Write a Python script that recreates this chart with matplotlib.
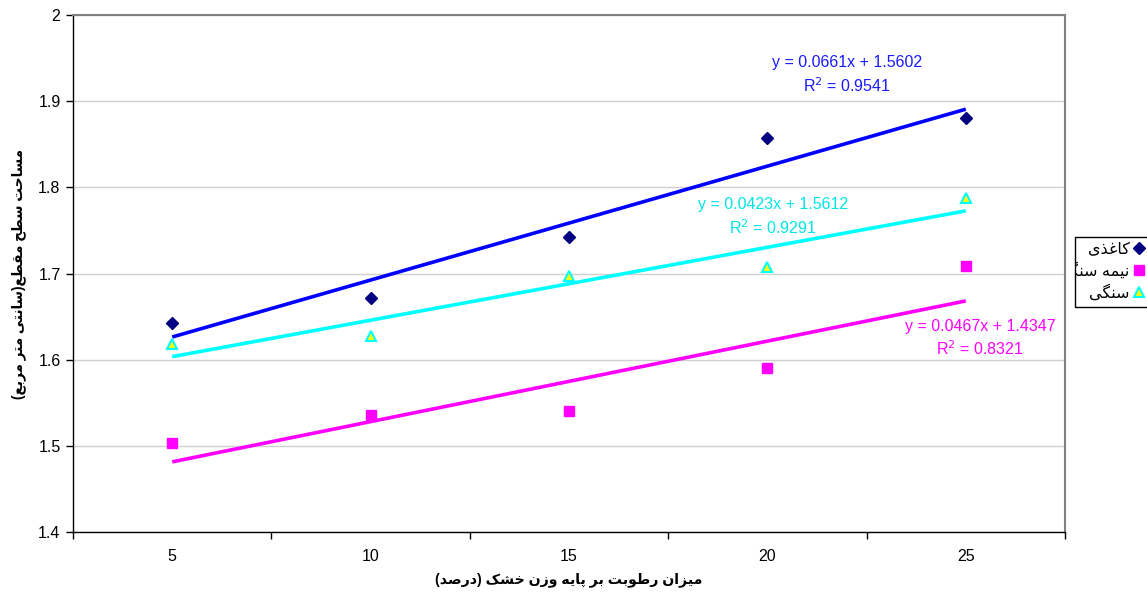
import numpy as np
import matplotlib
matplotlib.use("Agg")
import matplotlib.pyplot as plt
from matplotlib.transforms import Bbox, TransformedBbox
from matplotlib.patches import Rectangle

# data
moisture = [5, 10, 15, 20, 25]
kaghazi = [1.642, 1.672, 1.742, 1.857, 1.880]
nime_sangi = [1.503, 1.536, 1.540, 1.590, 1.709]
sangi = [1.618, 1.627, 1.697, 1.707, 1.788]

# excel trendlines (x = point index 1..5): slope, intercept, R2
trend_kaghazi = (0.0661, 1.5602, 0.9541)
trend_nime = (0.0467, 1.4347, 0.8321)
trend_sangi = (0.0423, 1.5612, 0.9291)

y_ticks = [1.4, 1.5, 1.6, 1.7, 1.8, 1.9, 2.0]

labels_fa = ["کاغذی", "نیمه سنگی", "سنگی"]
xlabel_fa = "میزان رطوبت بر پایه وزن خشک (درصد)"
ylabel_fa = "مساحت سطح مقطع(سانتی متر مربع)"

# simple arabic/persian shaping (matplotlib has no bidi / joining)
FORMS = {
    "ا": (0xFE8D, 0xFE8E, None, None),
    "ب": (0xFE8F, 0xFE90, 0xFE91, 0xFE92),
    "ت": (0xFE95, 0xFE96, 0xFE97, 0xFE98),
    "ح": (0xFEA1, 0xFEA2, 0xFEA3, 0xFEA4),
    "خ": (0xFEA5, 0xFEA6, 0xFEA7, 0xFEA8),
    "د": (0xFEA9, 0xFEAA, None, None),
    "ذ": (0xFEAB, 0xFEAC, None, None),
    "ر": (0xFEAD, 0xFEAE, None, None),
    "ز": (0xFEAF, 0xFEB0, None, None),
    "س": (0xFEB1, 0xFEB2, 0xFEB3, 0xFEB4),
    "ش": (0xFEB5, 0xFEB6, 0xFEB7, 0xFEB8),
    "ص": (0xFEB9, 0xFEBA, 0xFEBB, 0xFEBC),
    "ط": (0xFEC1, 0xFEC2, 0xFEC3, 0xFEC4),
    "ع": (0xFEC9, 0xFECA, 0xFECB, 0xFECC),
    "غ": (0xFECD, 0xFECE, 0xFECF, 0xFED0),
    "ق": (0xFED5, 0xFED6, 0xFED7, 0xFED8),
    "م": (0xFEE1, 0xFEE2, 0xFEE3, 0xFEE4),
    "ن": (0xFEE5, 0xFEE6, 0xFEE7, 0xFEE8),
    "ه": (0xFEE9, 0xFEEA, 0xFEEB, 0xFEEC),
    "و": (0xFEED, 0xFEEE, None, None),
    "پ": (0xFB56, 0xFB57, 0xFB58, 0xFB59),
    "ک": (0xFB8E, 0xFB8F, 0xFB90, 0xFB91),
    "گ": (0xFB92, 0xFB93, 0xFB94, 0xFB95),
    "ی": (0xFBFC, 0xFBFD, 0xFBFE, 0xFBFF),
}


def shape(text):
    out = []
    for i, ch in enumerate(text):
        if ch not in FORMS:
            out.append(ch)
            continue
        iso, fin, ini, med = FORMS[ch]
        prev = text[i - 1] if i > 0 else ""
        nxt = text[i + 1] if i + 1 < len(text) else ""
        join_prev = prev in FORMS and FORMS[prev][2] is not None
        join_next = nxt in FORMS and ini is not None
        if join_prev and join_next:
            code = med
        elif join_prev:
            code = fin
        elif join_next:
            code = ini
        else:
            code = iso
        out.append(chr(code))
    swap = {"(": ")", ")": "("}
    return "".join(swap.get(c, c) for c in reversed(out))


FONT = ["Liberation Sans", "DejaVu Sans"]
plt.rcParams["font.family"] = FONT

W, H = 1147, 593
fig = plt.figure(figsize=(W / 100, H / 100), dpi=100)
ax = fig.add_axes([73 / W, 1 - 532 / H, 992 / W, 517 / H])

idx = np.arange(1, len(moisture) + 1)
trend_x = np.array([idx[0], idx[-1]])
trend_pos = np.array([moisture[0], moisture[-1]])

# trendlines
for (m, b, r2), col in [(trend_kaghazi, "#0000ff"), (trend_sangi, "#00ffff"),
                        (trend_nime, "#ff00ff")]:
    ax.plot(trend_pos, m * trend_x + b, color=col, lw=2.6, solid_capstyle="butt", zorder=3)

# data points
ax.plot(moisture, kaghazi, ls="none", marker="D", ms=6.5, color="#000080", zorder=4,
        label=shape(labels_fa[0]))
ax.plot(moisture, nime_sangi, ls="none", marker="s", ms=7, color="#ff00ff", zorder=4,
        label=shape(labels_fa[1]))
ax.plot(moisture, sangi, ls="none", marker="^", ms=7.5, mfc="#ffff00", mec="#00ffff",
        mew=1.5, zorder=4, label=shape(labels_fa[2]))

# trendline labels
eq_fs = 11.5
for (m, b, r2), col, xc, yc in [(trend_kaghazi, "#1a1aff", 847, 63),
                                (trend_sangi, "#00e5e5", 773, 205),
                                (trend_nime, "#ff00ff", 980, 326)]:
    fig.text(xc / W, 1 - yc / H, f"y = {m:.4f}x + {b:.4f}", color=col,
             fontsize=eq_fs, ha="center", va="center")
    fig.text(xc / W, 1 - (yc + 23) / H, f"R$^2$ = {r2:.4f}", color=col,
             fontsize=eq_fs, ha="center", va="center")

ax.set_xlim(2.5, 27.5)
ax.set_ylim(1.4, 2.0)
ax.set_yticks(y_ticks)
ax.set_yticklabels([f"{v:g}" for v in y_ticks])
ax.set_xticks(np.arange(2.5, 28, 5))
ax.set_xticklabels([])
ax.set_xticks(moisture, minor=True)
ax.set_xticklabels([str(v) for v in moisture], minor=True)
ax.tick_params(axis="x", which="major", length=5, width=1, color="black", direction="out")
ax.tick_params(axis="x", which="minor", length=0, pad=12, labelsize=11.5)
ax.tick_params(axis="y", length=5, width=1, direction="out", labelsize=11.5, pad=4)

ax.yaxis.grid(True, color="#d0d0d0", lw=1)
ax.set_axisbelow(True)
for s in ["left", "bottom"]:
    ax.spines[s].set_color("black")
    ax.spines[s].set_linewidth(1)
for s in ["top", "right"]:
    ax.spines[s].set_color("#808080")
    ax.spines[s].set_linewidth(1.5)

# axis titles
fig.text(569 / W, 1 - 580 / H, shape(xlabel_fa), fontsize=10.2, fontweight="bold",
         ha="center", va="center")
fig.text(19 / W, 1 - 274 / H, shape(ylabel_fa), fontsize=9.8, fontweight="bold",
         ha="center", va="center", rotation=90)

# legend: markers on the right, box narrower than the longest label (clipped like excel)
box = Rectangle((1075 / W, 1 - 307 / H), 80 / W, 70 / H,
                transform=fig.transFigure, fill=False, ec="black", lw=1, zorder=5)
fig.patches.append(box)
leg = ax.legend(loc="center right", bbox_to_anchor=(1144 / W, 1 - 271 / H),
                bbox_transform=fig.transFigure, markerfirst=False, frameon=False,
                fontsize=11.5, handlelength=0.6, handletextpad=0.3, labelspacing=0.35,
                borderpad=0, borderaxespad=0)
clip = TransformedBbox(Bbox.from_extents(1076 / W, 0, 1, 1), fig.transFigure)
for t in leg.get_texts():
    t.set_clip_box(clip)
    t.set_clip_on(True)

fig.savefig("out.png", dpi=100)
